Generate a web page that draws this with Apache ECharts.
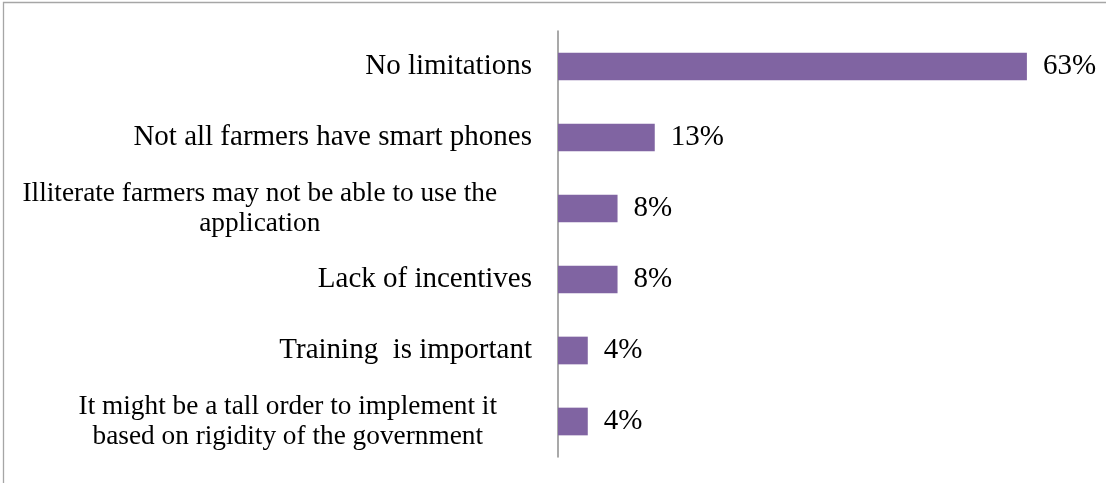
<!DOCTYPE html>
<html>
<head>
<meta charset="utf-8">
<script src="https://cdn.jsdelivr.net/npm/echarts@6/dist/echarts.min.js"></script>
<style>
html,body{margin:0;padding:0;background:#fff;}
#chart{width:1106px;height:483px;}
</style>
</head>
<body>
<div id="chart"></div>
<script>
const categories = [
  "No limitations",
  "Not all farmers have smart phones",
  "Illiterate farmers may not be able to use the\napplication",
  "Lack of incentives",
  "Training  is important",
  "It might be a tall order to implement it\nbased on rigidity of the government"
];
const values = [63, 13, 8, 8, 4, 4];
const valueLabels = ["63%", "13%", "8%", "8%", "4%", "4%"];

const FONT = "Liberation Serif";
const FS = 29;
const FS_WRAP = 27.3;
const ctx = document.createElement('canvas').getContext('2d');
ctx.font = FS_WRAP + "px '" + FONT + "'";

const rich = {};
const formatted = {};
categories.forEach(function (c, i) {
  const lines = c.split('\n');
  if (lines.length > 1) {
    let w = 0;
    lines.forEach(function (l) { w = Math.max(w, ctx.measureText(l).width); });
    rich['c' + i] = {width: w + 70, align: 'center', fontFamily: FONT, fontSize: FS_WRAP, color: '#000', lineHeight: 30};
    formatted[c] = lines.map(function (l) { return '{c' + i + '|' + l + '}'; }).join('\n');
  } else {
    formatted[c] = c;
  }
});

const chart = echarts.init(document.getElementById('chart'));
chart.setOption({
  animation: false,
  backgroundColor: '#fff',
  graphic: [{
    type: 'rect',
    shape: {x: 3.5, y: 2.5, width: 1110, height: 500},
    style: {fill: 'none', stroke: '#a6a6a6', lineWidth: 1.3},
    silent: true
  }],
  grid: {left: 558, right: 27, top: 31, bottom: 26, containLabel: false, outerBoundsMode: 'none'},
  xAxis: {type: 'value', min: 0, max: 70, show: false},
  yAxis: {
    type: 'category',
    inverse: true,
    data: categories,
    axisTick: {show: false},
    axisLine: {show: true, lineStyle: {color: '#8c8c8c', width: 1.5}},
    axisLabel: {
      interval: 0,
      margin: 26,
      fontFamily: FONT,
      fontSize: FS,
      color: '#000',
      lineHeight: 30,
      formatter: function (v) { return formatted[v]; },
      rich: rich
    }
  },
  series: [{
    type: 'bar',
    data: values,
    barCategoryGap: '61%',
    itemStyle: {color: '#8064A2'},
    label: {
      show: true,
      position: 'right',
      distance: 16,
      fontFamily: FONT,
      fontSize: FS,
      color: '#000',
      formatter: function (p) { return valueLabels[p.dataIndex]; }
    }
  }]
});
</script>
</body>
</html>
